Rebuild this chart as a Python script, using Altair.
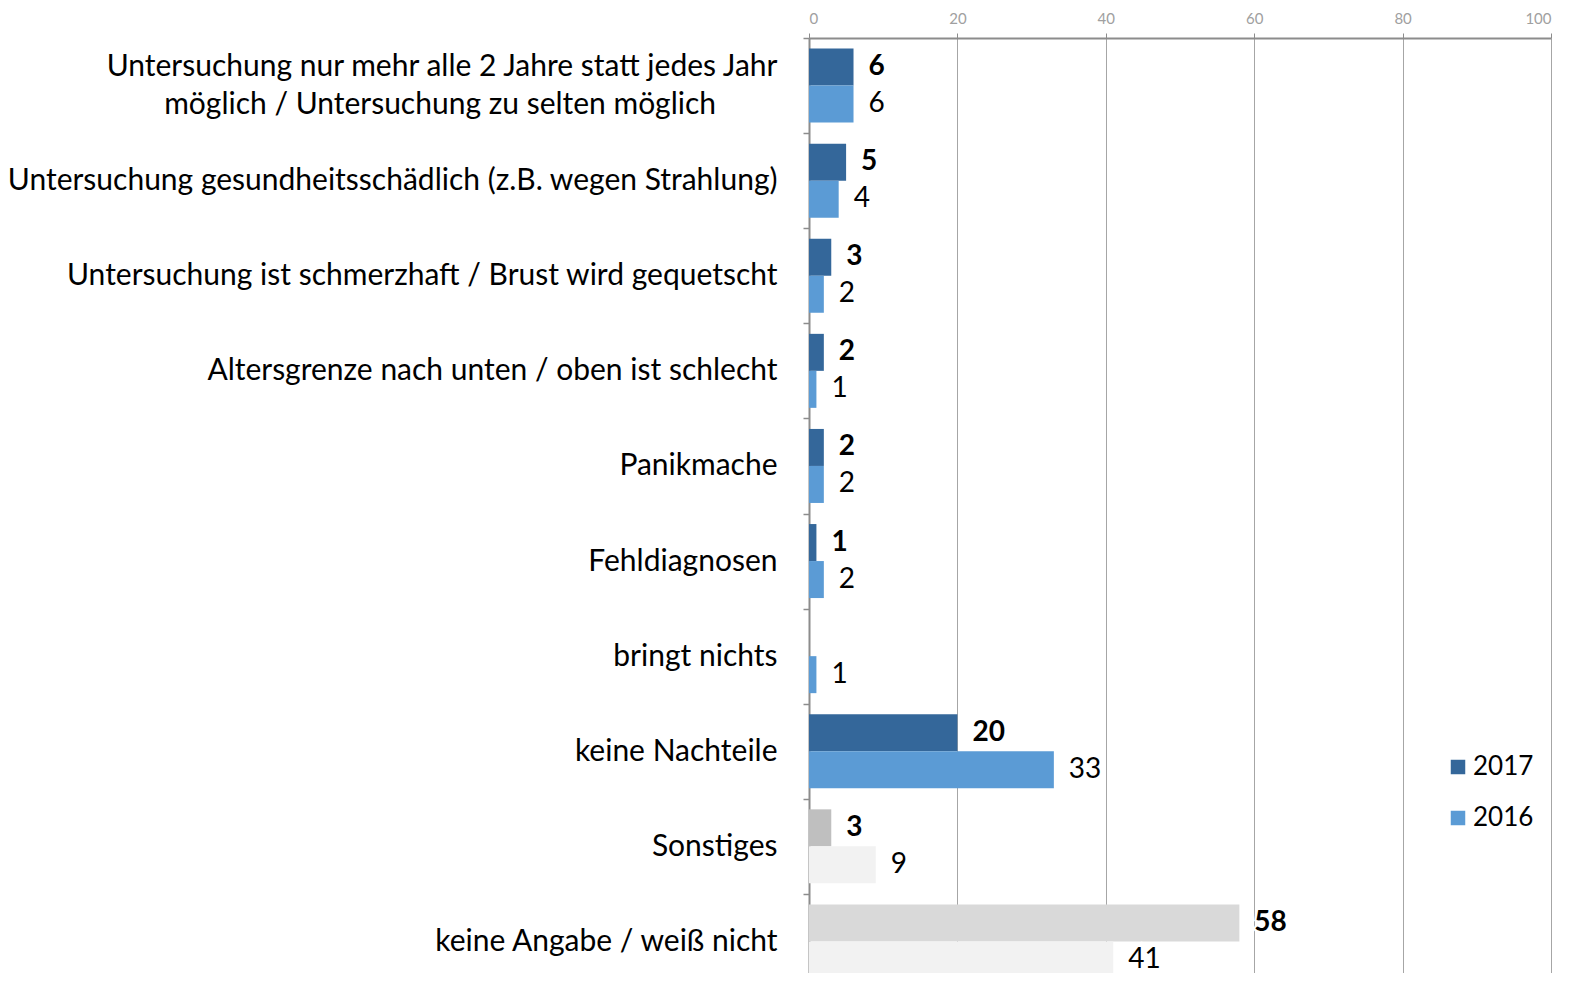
import altair as alt
import pandas as pd

categories = [
    "Untersuchung nur mehr alle 2 Jahre statt jedes Jahr|möglich / Untersuchung zu selten möglich",
    "Untersuchung gesundheitsschädlich (z.B. wegen Strahlung)",
    "Untersuchung ist schmerzhaft / Brust wird gequetscht",
    "Altersgrenze nach unten / oben ist schlecht",
    "Panikmache",
    "Fehldiagnosen",
    "bringt nichts",
    "keine Nachteile",
    "Sonstiges",
    "keine Angabe / weiß nicht",
]
values_2017 = [6, 5, 3, 2, 2, 1, 0, 20, 3, 58]
values_2016 = [6, 4, 2, 1, 2, 2, 1, 33, 9, 41]
years = ["2017", "2016"]
x_ticks = [0, 20, 40, 60, 80, 100]

grey_groups = {"Sonstiges": "S", "keine Angabe / weiß nicht": "K"}

rows = []
for cat, a, b in zip(categories, values_2017, values_2016):
    for yr, v in (("2017", a), ("2016", b)):
        key = grey_groups.get(cat, "") + yr
        rows.append({"category": cat, "year": yr, "value": v, "key": key})
df = pd.DataFrame(rows)

color_domain = ["2017", "2016", "S2017", "S2016", "K2017", "K2016"]
color_range = ["#34679A", "#5B9BD5", "#BFBFBF", "#F2F2F2", "#D9D9D9", "#F2F2F2"]

FONT = "Lato"
pad = "\u00a0" * 8 + "\u200b"
label_expr = (
    "indexof(datum.label, '|') >= 0 ? "
    "[split(datum.label, '|')[0], split(datum.label, '|')[1] + '" + pad + "'] : datum.label"
)

y_enc = alt.Y(
    "category:N",
    sort=categories,
    scale=alt.Scale(paddingInner=0, paddingOuter=0, range=[0, 951]),
    axis=alt.Axis(
        title=None,
        orient="left",
        labelExpr=label_expr,
        labelFont=FONT,
        labelFontSize=30,
        labelColor="#000000",
        labelLimit=0,
        labelPadding=26,
        labelLineHeight=38,
        labelOffset=alt.condition(
            "indexof(datum.label, '|') >= 0", alt.value(-19), alt.value(0)
        ),
        tickBand="extent",
        tickSize=6,
        tickColor="#8C8C8C",
        tickWidth=1.5,
        domainColor="#8C8C8C",
        domainWidth=2,
        grid=False,
    ),
)
yoff = alt.YOffset(
    "year:N", sort=years, scale=alt.Scale(paddingInner=0, paddingOuter=0.285)
)
x_enc = alt.X(
    "value:Q",
    scale=alt.Scale(domain=[0, 100], nice=False),
    axis=alt.Axis(
        title=None,
        orient="top",
        values=x_ticks,
        labelFont=FONT,
        labelFontSize=15,
        labelColor="#A0A0A0",
        labelPadding=7,
        tickSize=5,
        tickColor="#8C8C8C",
        domainColor="#8C8C8C",
        domainWidth=2,
        grid=True,
        gridColor="#A6A6A6",
        gridWidth=1,
    ),
)

base = alt.Chart(df).encode(y=y_enc, yOffset=yoff)

bars = base.mark_bar(strokeWidth=0).encode(
    x=x_enc,
    color=alt.Color(
        "key:N",
        scale=alt.Scale(domain=color_domain, range=color_range),
        legend=alt.Legend(
            title=None,
            values=years,
            orient="none",
            legendX=636,
            legendY=716,
            symbolType="square",
            symbolSize=210,
            symbolStrokeWidth=0,
            labelFont=FONT,
            labelFontSize=26,
            labelColor="#000000",
            labelOffset=2,
            rowPadding=25,
        ),
    ),
)

labels_src = base.transform_filter(alt.datum.value > 0)

halo = labels_src.mark_text(
    align="left", baseline="middle", dx=15, font=FONT, fontSize=28,
    stroke="white", strokeWidth=5, fill="white",
).encode(x="value:Q", text="value:Q")

lab17 = labels_src.transform_filter(alt.datum.year == "2017").mark_text(
    align="left", baseline="middle", dx=15, font=FONT, fontSize=28,
    fontWeight="bold", color="#000000",
).encode(x="value:Q", text="value:Q")

lab16 = labels_src.transform_filter(alt.datum.year == "2016").mark_text(
    align="left", baseline="middle", dx=15, font=FONT, fontSize=28,
    color="#000000",
).encode(x="value:Q", text="value:Q")

chart = (
    alt.layer(bars, halo, lab17, lab16)
    .properties(
        width=742,
        height=935,
        autosize=alt.AutoSizeParams(type="none"),
        padding={"left": 801, "top": 30, "right": 11, "bottom": 0},
        background="white",
    )
    .configure_view(stroke=None)
)

chart.save("out.html", embed_options={"renderer": "svg", "actions": False})
